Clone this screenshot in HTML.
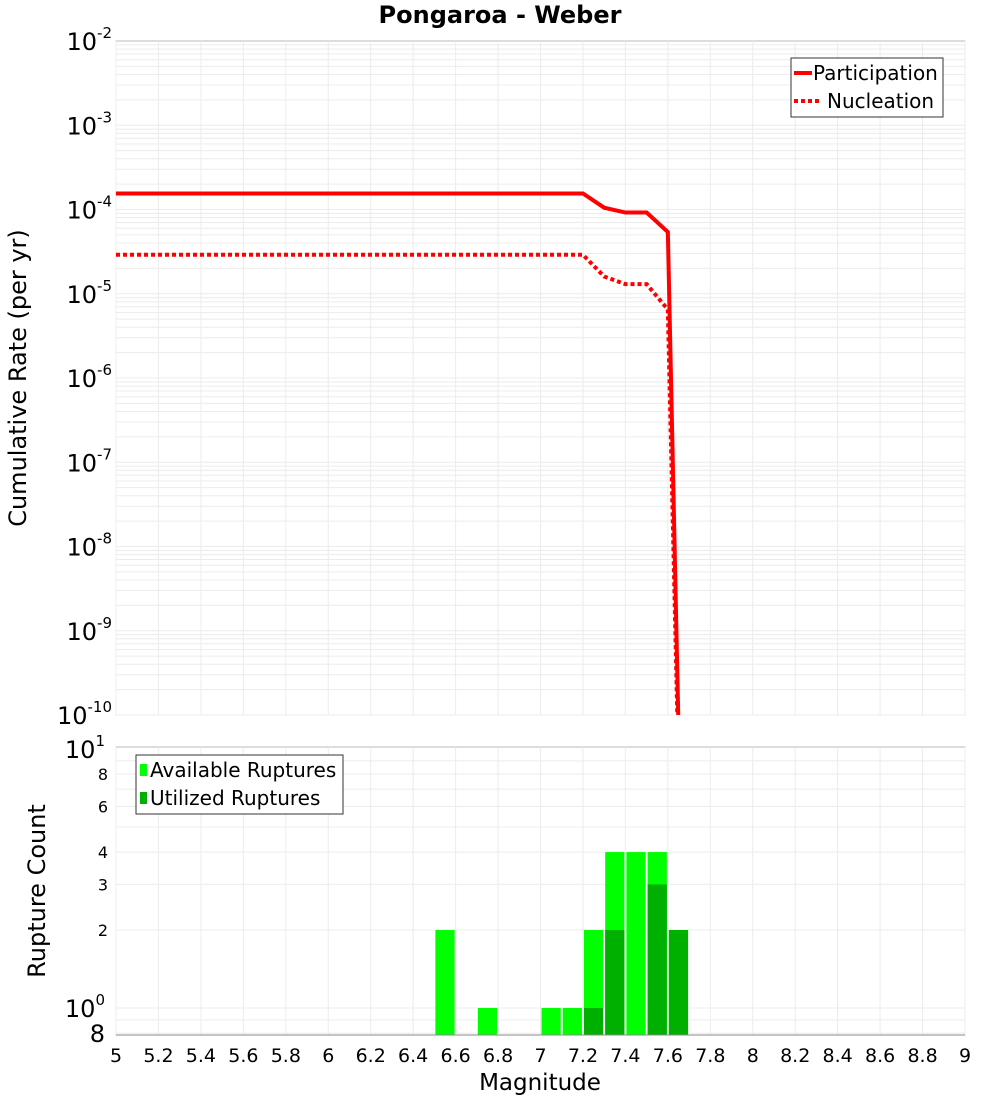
<!DOCTYPE html>
<html><head><meta charset="utf-8"><style>
html,body{margin:0;padding:0;background:#fff;overflow:hidden;font-family:"Liberation Sans","DejaVu Sans",sans-serif}
svg{display:block}
svg text{font-family:"DejaVu Sans","Liberation Sans",sans-serif}
</style></head><body>
<svg id="c" width="1000" height="1100" xmlns="http://www.w3.org/2000/svg"></svg>
<script>
const partMags=[5,7.2,7.3,7.4,7.5,7.6,7.7];
const partRates=[1.55e-4,1.55e-4,1.05e-4,9.2e-5,9.2e-5,5.4e-5,1e-16];
const nuclMags=[5,7.2,7.3,7.4,7.5,7.6,7.7];
const nuclRates=[2.9e-5,2.9e-5,1.6e-5,1.3e-5,1.3e-5,6.5e-6,1e-16];
const binMags=[6.55,6.75,7.05,7.15,7.25,7.35,7.45,7.55,7.65];
const availCounts=[2,1,1,1,2,4,4,4,2];
const usedCounts=[0,0,0,0,1,2,0,3,2];
const xTicks=[5,5.2,5.4,5.6,5.8,6,6.2,6.4,6.6,6.8,7,7.2,7.4,7.6,7.8,8,8.2,8.4,8.6,8.8,9];
const topExps=[-2,-3,-4,-5,-6,-7,-8,-9,-10];
const botTicks=[["8",0.8],["10",1],["2",2],["3",3],["4",4],["6",6],["8",8],["10",10]];

const svg=document.getElementById('c');const NS='http://www.w3.org/2000/svg';
function el(t,a,p){const e=document.createElementNS(NS,t);for(const k in a)e.setAttribute(k,a[k]);(p||svg).appendChild(e);return e;}
const X0=116,X1=965;
const x=m=>X0+(m-5)/4*(X1-X0);
const T0=41,T1=715;
const yT=v=>T0+(-2-Math.log10(v))*(T1-T0)/8;
const B0=747,B1=1035;
const yB=v=>1008-Math.log10(v)*259;

let r=el('rect',{x:X0,y:T0,width:X1-X0,height:T1-T0,fill:'#fff',stroke:'#bbb'});

const gT=el('g',{stroke:'#ececec','stroke-width':1});

for(let e=-10;e<-2;e++)for(let k=1;k<10;k++){const yy=yT(k*Math.pow(10,e));el('line',{x1:X0,x2:X1,y1:yy,y2:yy},gT);}
xTicks.forEach(m=>el('line',{x1:x(m),x2:x(m),y1:T0,y2:T1},gT));
topExps.forEach(e=>{const t=el('text',{x:112,y:yT(Math.pow(10,e))+9,'text-anchor':'end','font-size':24});

t.innerHTML='10<tspan dy="-12" font-size="15">'+e+'</tspan>';});
const cp=el('clipPath',{id:'cp'});el('rect',{x:X0,y:T0,width:X1-X0,height:T1-T0},cp);
function line(ms,vs,dash,name){const p=el('polyline',{points:ms.map((m,i)=>x(m)+','+yT(vs[i])).join(' '),fill:'none',stroke:'#f00','stroke-width':4,'clip-path':'url(#cp)'});
if(dash)p.setAttribute('stroke-dasharray','4,3');}
line(partMags,partRates,false,'participation-line');
line(nuclMags,nuclRates,true,'nucleation-line');
let lg=el('g',{});
el('rect',{x:791,y:58,width:152,height:59,fill:'#fff',stroke:'#333'},lg);
el('line',{x1:794,x2:812,y1:73,y2:73,stroke:'#f00','stroke-width':4},lg);
el('line',{x1:794,x2:822,y1:101,y2:101,stroke:'#f00','stroke-width':4,'stroke-dasharray':'4,3'},lg);
el('text',{x:813,y:80,'font-size':20},lg).textContent='Participation';
el('text',{x:827,y:108,'font-size':20},lg).textContent='Nucleation';
let tt=el('text',{x:500,y:23,'text-anchor':'middle','font-size':24,'font-weight':'bold'});tt.textContent='Pongaroa - Weber';

let yl=el('text',{transform:'translate(26,378) rotate(-90)','text-anchor':'middle','font-size':24});yl.textContent='Cumulative Rate (per yr)';


r=el('rect',{x:X0,y:B0,width:X1-X0,height:B1-B0,fill:'#fff',stroke:'#bbb'});

const gB=el('g',{stroke:'#ececec','stroke-width':1});

[0.8,0.9,1,2,3,4,5,6,7,8,9].forEach(v=>el('line',{x1:X0,x2:X1,y1:yB(v),y2:yB(v)},gB));
xTicks.forEach(m=>el('line',{x1:x(m),x2:x(m),y1:B0,y2:B1},gB));
const bw=(x(5.1)-x(5))-2;
binMags.forEach((m,i)=>{const b=el('rect',{x:x(m)-bw/2,y:yB(availCounts[i]),width:bw,height:B1-yB(availCounts[i]),fill:'#00ff00'});

if(usedCounts[i]>0){const u=el('rect',{x:x(m)-bw/2,y:yB(usedCounts[i]),width:bw,height:B1-yB(usedCounts[i]),fill:'#00b000'});
}});
el('line',{x1:X0,x2:X1,y1:B1,y2:B1,stroke:'#888'});
botTicks.forEach(([l,v])=>{const big=(v===1||v===10||v===0.8);const t=el('text',{x:big?105:108,y:yB(v)+(big?9:6),'text-anchor':'end','font-size':big?24:16});

t.innerHTML=(v===1?'10<tspan dy="-12" font-size="15">0</tspan>':v===10?'10<tspan dy="-12" font-size="15">1</tspan>':l);});
xTicks.forEach(m=>{const t=el('text',{x:x(m),y:1062,'text-anchor':'middle','font-size':19});t.textContent=String(m);
});
lg=el('g',{});
el('rect',{x:136,y:755,width:207,height:59,fill:'#fff',stroke:'#333'},lg);
el('rect',{x:140,y:764,width:7,height:12,fill:'#00ff00'},lg);
el('rect',{x:140,y:792,width:7,height:12,fill:'#00b000'},lg);
el('text',{x:150,y:777,'font-size':20},lg).textContent='Available Ruptures';
el('text',{x:150,y:805,'font-size':20},lg).textContent='Utilized Ruptures';
yl=el('text',{transform:'translate(45,891) rotate(-90)','text-anchor':'middle','font-size':24});yl.textContent='Rupture Count';

const xl=el('text',{x:540,y:1090,'text-anchor':'middle','font-size':23});xl.textContent='Magnitude';

</script>
</body></html>
